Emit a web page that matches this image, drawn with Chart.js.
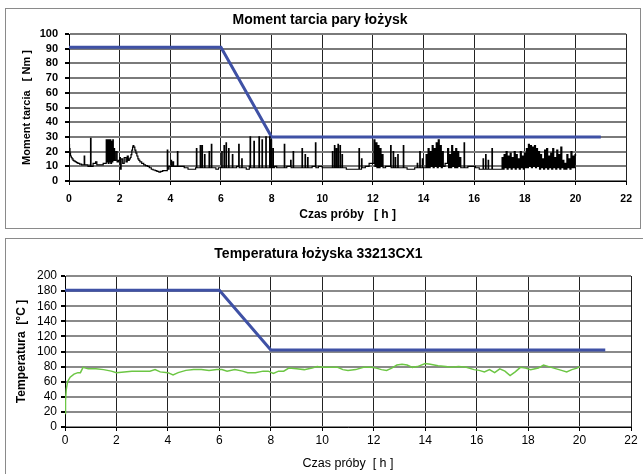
<!DOCTYPE html>
<html><head><meta charset="utf-8">
<script src="https://cdn.jsdelivr.net/npm/chart.js@4/dist/chart.umd.min.js"></script>
<style>
html,body{margin:0;padding:0;background:#fff;width:643px;height:474px;overflow:hidden;}
.box{position:absolute;border:1px solid #8a8a8a;box-sizing:border-box;}
canvas{position:absolute;}
</style></head><body>
<div class="box" style="left:5px;top:8px;width:636px;height:221px;"></div>
<div class="box" style="left:5px;top:238px;width:645px;height:245px;"></div>
<canvas id="c1" width="634" height="219" style="left:6px;top:9px;"></canvas>
<canvas id="c2" width="662" height="235" style="left:6px;top:239px;"></canvas>
<script>
// ---- Chart 1: Moment tarcia pary łożysk ----
const limitTime1 = [0, 6, 8, 21];
const limitMoment = [91, 91, 30, 30];
const momentTimeA = [
0.00,0.01,0.02,0.04,0.06,0.09,0.12,0.16,0.20,0.25,0.30,0.35,0.42,0.50,
0.58,0.60,0.62,0.75,0.83,0.85,0.87,0.95,1.05,1.10,1.25,1.35,1.45,
1.47,1.49,1.53,1.55,1.58,1.60,1.63,1.65,1.68,1.70,1.73,1.75,1.78,1.80,1.85,1.90,1.95,2.00,2.03,2.06,
2.12,2.18,2.25,2.30,2.34,2.38,2.42,2.45,2.48,2.51,2.53,2.56,2.60,2.64,2.68,2.72,2.76,2.80,2.87,2.95,
3.02,3.10,3.17,3.25,3.32,3.40,3.47,3.55,3.62,3.70,3.85,3.88,3.90,3.95,
4.00,4.03,4.05,4.10,4.13,4.25,4.28,4.30,4.40,4.55,4.70,4.85,5.00,5.03,5.05,5.15,5.18,5.20,5.25,5.27,
5.35,5.37,5.50,5.53,5.55,5.62,5.64,5.80,5.90,6.03,6.05,6.12,6.14,6.20,6.22,6.30,6.32,6.45,6.47,6.62,
6.70,6.72,6.82,6.84,7.00,7.12,7.15,7.17,7.30,7.32,7.50,7.52,7.62,7.64,7.77,7.79,7.92,7.94,7.98,8.00,
8.05,8.07,8.12,8.20,8.50,8.52,8.60,8.75,8.77,8.85,8.87,9.00,9.20,9.22,9.32,9.34,9.42,9.44,9.60,9.73,
9.75,9.85,10.00,10.20,10.40,10.42,10.48,10.50,10.55,10.57,10.62,10.64,10.70,10.72,10.78,10.80,10.95,11.10,11.30,11.45,
11.47,11.55,11.57,11.70,11.85
];
const momentValueA = [
28,25,22,19,17,16,15,14,13.5,13,12.5,12,11.5,11,
11,17,11,10,11,29,10,12,13,11,11,12,12,
28,13,28,12,28,13,28,12,27,13,28,14,22,14,20,13,14,16,8,15,
12,16,13,17,14,15,16,18,21,23,24,23,21,19,17,15,14,13,12,11,
10.5,10,9,8,7.5,7,6.5,6,6.5,7,7,21,8,10,
10,14,10,13,10,10,20,10,10,9,8,8,9,22,9,9,24,9,24,9,
18,9,9,20,9,25,9,8,9,20,9,24,9,26,9,22,9,18,9,10,
25,9,15,9,8,10,30,9,27,9,30,9,28,9,30,9,30,9,28,9,
22,9,10,9,25,9,10,14,9,20,9,9,22,9,18,9,16,9,10,26,
9,10,9,9,20,9,24,9,22,9,25,9,24,9,18,9,8,8,8,22,
8,15,9,10,12
];
const momentTimeB = [
12.00,12.04,12.08,12.12,12.16,12.20,12.24,12.28,12.32,12.36,12.40,12.50,12.70,12.72,12.80,12.82,12.88,12.90,12.98,13.00,
13.20,13.22,13.35,13.50,13.65,13.75,13.77,13.85,13.87,13.95,13.97,
14.10,14.14,14.18,14.22,14.26,14.30,14.34,14.38,14.42,14.46,14.50,14.54,14.58,14.62,14.66,14.70,14.74,14.78,14.85,
14.95,14.99,15.03,15.07,15.11,15.15,15.19,15.23,15.27,15.31,15.35,15.39,15.43,15.47,15.60,15.62,15.75,15.90,16.05,16.20,
16.35,16.37,16.45,16.47,16.55,16.57,16.70,16.72,16.85,17.00
];
const momentValueB = [
12,28,10,26,9,24,9,22,10,18,9,10,24,9,20,9,16,9,18,9,
24,9,8,8,9,12,9,20,9,15,9,
18,9,22,9,20,10,24,9,22,10,26,9,28,10,24,9,20,10,12,
22,9,18,9,24,10,20,9,22,9,20,10,16,9,26,9,10,10,9,8,
15,8,18,8,14,8,22,8,8,8
];
const momentTimeC = [
17.10,17.14,17.18,17.22,17.26,17.30,17.34,17.38,17.42,17.46,17.50,17.54,17.58,17.62,17.66,17.70,17.74,17.78,17.82,17.86,
17.90,17.94,17.98,18.02,18.06,18.10,18.14,18.18,18.22,18.26,18.30,18.34,18.38,18.42,18.46,18.50,18.54,18.58,18.62,18.66,
18.70,18.74,18.78,18.82,18.86,18.90,18.94,18.98,19.02,19.06,19.10,19.14,19.18,19.22,19.26,19.30,19.34,19.38,19.42,19.46,
19.50,19.54,19.58,19.62,19.66,19.70,19.74,19.78,19.82,19.86,19.90,19.94,19.98,20.00
];
const momentValueC = [
16,8,18,9,20,8,17,9,19,8,16,9,20,8,18,9,15,8,20,9,
17,8,19,9,22,9,25,10,24,9,23,10,24,9,22,10,20,8,18,9,
15,8,21,9,22,8,17,9,19,8,22,9,16,8,21,9,18,8,23,9,
14,8,12,8,18,9,15,8,20,9,17,9,18,17
];
const yTicks1 = [0,10,20,30,40,50,60,70,80,90,100];

// ---- Chart 2: Temperatura łożyska 33213CX1 ----
const limitTime2 = [0, 6, 8, 21];
const limitTemp = [181, 181, 102, 102];
const tempTime = [
0,0.02,0.05,0.1,0.2,0.35,0.5,0.6,0.7,0.9,1.2,1.5,1.8,2.0,2.3,2.6,3.0,3.3,3.5,3.7,
4.0,4.2,4.4,4.7,5.0,5.3,5.6,5.9,6.1,6.3,6.6,6.9,7.1,7.4,7.7,7.9,8.1,8.3,8.5,8.7,
9.0,9.3,9.6,9.8,10.0,10.3,10.6,10.8,11.0,11.3,11.6,11.9,12.1,12.3,12.5,12.7,12.9,13.1,13.3,13.5,
13.7,14.0,14.2,14.5,14.8,15.0,15.3,15.6,15.9,16.1,16.3,16.5,16.7,16.9,17.1,17.3,17.5,17.7,17.9,18.1,
18.4,18.6,18.8,19.0,19.3,19.5,19.7,19.9,20.0
];
const tempValue = [
18,35,50,60,66,70,72,72,79,77,77,76,74,72,73,74,74,74,76,73,
72,69,72,75,76,76,75,76,76,74,76,74,72,72,74,74,71,74,74,78,
77,76,78,80,79,79,79,76,75,76,79,79,78,76,75,78,82,83,82,79,
80,84,83,81,80,79,80,79,76,75,73,76,72,77,74,68,73,79,78,76,
78,82,80,78,75,73,76,78,80
];
const yTicks2 = [0,20,40,60,80,100,120,140,160,180,200];
const xTicks = [0,2,4,6,8,10,12,14,16,18,20,22];

const FONT = "'Liberation Sans', Arial, sans-serif";
const pts = (xs, ys) => xs.map((x, i) => ({x, y: ys[i]}));
const momentTime = momentTimeA.concat(momentTimeB, momentTimeC);
const momentValue = momentValueA.concat(momentValueB, momentValueC);

function makeChart(id, cfg) {
  return new Chart(document.getElementById(id), {
    type: 'line',
    data: { datasets: cfg.datasets },
    options: {
      responsive: false, animation: false, devicePixelRatio: 1,
      events: [],
      layout: { padding: { left: 0, right: cfg.padRight, top: 0, bottom: 0 } },
      elements: { point: { radius: 0 }, line: { tension: 0 } },
      plugins: {
        legend: { display: false }, tooltip: { enabled: false },
        title: { display: true, text: cfg.title, color: '#000',
          font: { family: FONT, size: 14, weight: 'bold' }, padding: cfg.titlePad }
      },
      scales: {
        x: {
          type: 'linear', min: 0, max: 22,
          afterBuildTicks: s => { s.ticks = xTicks.map(v => ({value: v})); },
          afterFit: s => { s.height = cfg.xHeight; },
          grid: { color: '#222', lineWidth: 1, tickLength: 4, tickColor: '#000' },
          border: { display: true, color: '#000', width: 1 },
          ticks: { color: '#000', padding: cfg.xTickPad, maxRotation: 0, autoSkip: false,
            font: { family: FONT, size: cfg.xTickSize, weight: cfg.tickWeight } },
          title: { display: true, text: cfg.xTitle, color: '#000',
            font: { family: FONT, size: cfg.xTitleSize, weight: cfg.xTitleWeight },
            padding: { top: 0, bottom: cfg.xTitleBottom } }
        },
        y: {
          type: 'linear', min: cfg.yTicks[0], max: cfg.yTicks[cfg.yTicks.length - 1],
          afterBuildTicks: s => { s.ticks = cfg.yTicks.map(v => ({value: v})); },
          afterFit: s => { s.width = cfg.yWidth; },
          grid: { color: cfg.hGrid, lineWidth: 2, tickLength: 4, tickColor: '#000' },
          border: { display: true, color: '#000', width: 1 },
          ticks: { color: '#000', padding: cfg.yTickPad, autoSkip: false,
            font: { family: FONT, size: cfg.yTickSize, weight: cfg.tickWeight } },
          title: { display: true, text: cfg.yTitle, color: '#000',
            font: { family: FONT, size: cfg.yTitleSize, weight: 'bold' },
            padding: { top: cfg.yTitleTop, bottom: 0 } }
        }
      }
    }
  });
}

makeChart('c1', {
  title: 'Moment tarcia pary łożysk',
  titlePad: { top: 3, bottom: 5.2 },
  datasets: [
    { data: pts(momentTime, momentValue), borderColor: '#000', borderWidth: 1.2, stepped: 'before' },
    { data: pts(limitTime1, limitMoment), borderColor: '#3f51a5', borderWidth: 3 }
  ],
  padRight: 6, xHeight: 47, yWidth: 63,
  yTicks: yTicks1, hGrid: '#7a7a7a',
  xTickSize: 10.5, yTickSize: 11, tickWeight: 'bold', xTickPad: 8, yTickPad: 7,
  xTitle: 'Czas próby   [ h ]', xTitleSize: 12, xTitleWeight: 'bold', xTitleBottom: 6,
  yTitle: 'Moment tarcia   [ Nm ]', yTitleSize: 11, yTitleTop: 14.4
});

makeChart('c2', {
  title: 'Temperatura łożyska 33213CX1',
  titlePad: { top: 6.6, bottom: 13.6 },
  datasets: [
    { data: pts(tempTime, tempValue), borderColor: '#6cc644', borderWidth: 1.5 },
    { data: pts(limitTime2, limitTemp), borderColor: '#3f51a5', borderWidth: 3 }
  ],
  padRight: 37, xHeight: 47, yWidth: 59,
  yTicks: yTicks2, hGrid: '#8a8a8a',
  xTickSize: 12, yTickSize: 12, tickWeight: 'normal', xTickPad: 2, yTickPad: 4,
  xTitle: 'Czas próby  [ h ]', xTitleSize: 12.5, xTitleWeight: 'normal', xTitleBottom: 2.5,
  yTitle: 'Temperatura  [°C ]', yTitleSize: 12, yTitleTop: 8.8
});
</script>
</body></html>
